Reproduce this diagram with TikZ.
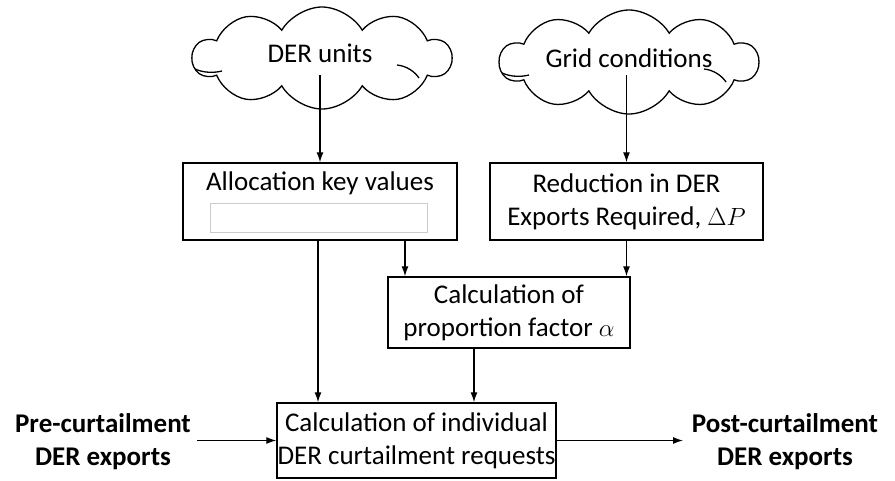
\documentclass[tikz,border=0pt]{standalone}
\usepackage{fontspec}
\setmainfont{Carlito}
\usetikzlibrary{shapes.symbols,arrows.meta,calc}
\begin{document}
\begin{tikzpicture}[x=1pt,y=-1pt,
  txt/.style={font=\fontsize{27}{33}\selectfont,align=center,inner sep=0pt},
  bold/.style={font=\fontsize{27}{33}\selectfont\bfseries,align=center,inner sep=0pt},
  box/.style={draw,line width=1.4pt,inner sep=0pt,font=\fontsize{27}{33}\selectfont,align=center},
  cloudy/.style={cloud,cloud puffs=10,cloud puff arc=120,aspect=2.5,draw,line width=1.3pt,inner sep=0pt},
  inner/.style={line width=1.3pt},
  arr/.style={line width=1.3pt,-{Latex[length=10pt,width=7pt]}}]
\useasboundingbox (0,0) rectangle (895,480);
% clouds
\node[cloudy,minimum width=258pt,minimum height=102pt] (c1) at (322,58) {};
\node[txt] (c1t) at (320,53) {DER units};
\node[cloudy,minimum width=258pt,minimum height=104pt] (c2) at (629,62) {};
\node[txt] (c2t) at (629,58) {Grid conditions};
\draw[inner] ($(c1.center)+(-127,11)$) .. controls ($(c1.center)+(-118,15)$) and ($(c1.center)+(-108,15)$) .. ($(c1.center)+(-100,13)$);
\draw[inner] ($(c1.center)+(75,7)$) .. controls ($(c1.center)+(85,8)$) and ($(c1.center)+(93,14)$) .. ($(c1.center)+(97,20)$);
\draw[inner] ($(c2.center)+(-127,11)$) .. controls ($(c2.center)+(-118,15)$) and ($(c2.center)+(-108,15)$) .. ($(c2.center)+(-100,13)$);
\draw[inner] ($(c2.center)+(75,7)$) .. controls ($(c2.center)+(85,8)$) and ($(c2.center)+(93,14)$) .. ($(c2.center)+(97,20)$);
\coordinate (c1s) at (320,75);
\coordinate (c2s) at (626.5,75);
% boxes
\node[box,minimum width=274pt,minimum height=77pt] (b1) at (320,201.5) {};
\node[txt] (b1t) at (320,183) {Allocation key values};
\node[draw=black!20,line width=0.8pt,minimum width=217pt,minimum height=29pt,inner sep=0pt] (b1i) at (318.5,217.5) {};
\node[box,minimum width=273pt,minimum height=77pt] (b2) at (626.5,201.5) {Reduction in DER\\Exports Required, $\Delta P$};
\node[box,minimum width=242pt,minimum height=71pt] (b3) at (509,312.5) {Calculation of\\proportion factor $\alpha$};
\node[box,minimum width=279pt,minimum height=75pt] (b4) at (416.5,440.5) {Calculation of individual\\DER curtailment requests};
\node[bold] (pre) at (103,442) {Pre-curtailment\\DER exports};
\node[bold] (post) at (785,442) {Post-curtailment\\DER exports};
\coordinate (postin) at (683,440.5);
\coordinate (prein) at (197,440.5);
% arrows
\draw[arr] (c1s) -- (b1.north);
\draw[arr] (c2s) -- (b2.north);
\draw[arr] ([xshift=-2pt]b1.south) -- ([xshift=-2pt]b1.south |- b4.north);
\draw[arr] ([xshift=85pt]b1.south) -- ([xshift=85pt]b1.south |- b3.north);
\draw[arr] (b2.south) -- (b2.south |- b3.north);
\draw[arr] ([xshift=-35pt]b3.south) -- ([xshift=-35pt]b3.south |- b4.north);
\draw[arr] (prein) -- (b4.west);
\draw[arr] (b4.east) -- (postin);
\end{tikzpicture}
\end{document}
